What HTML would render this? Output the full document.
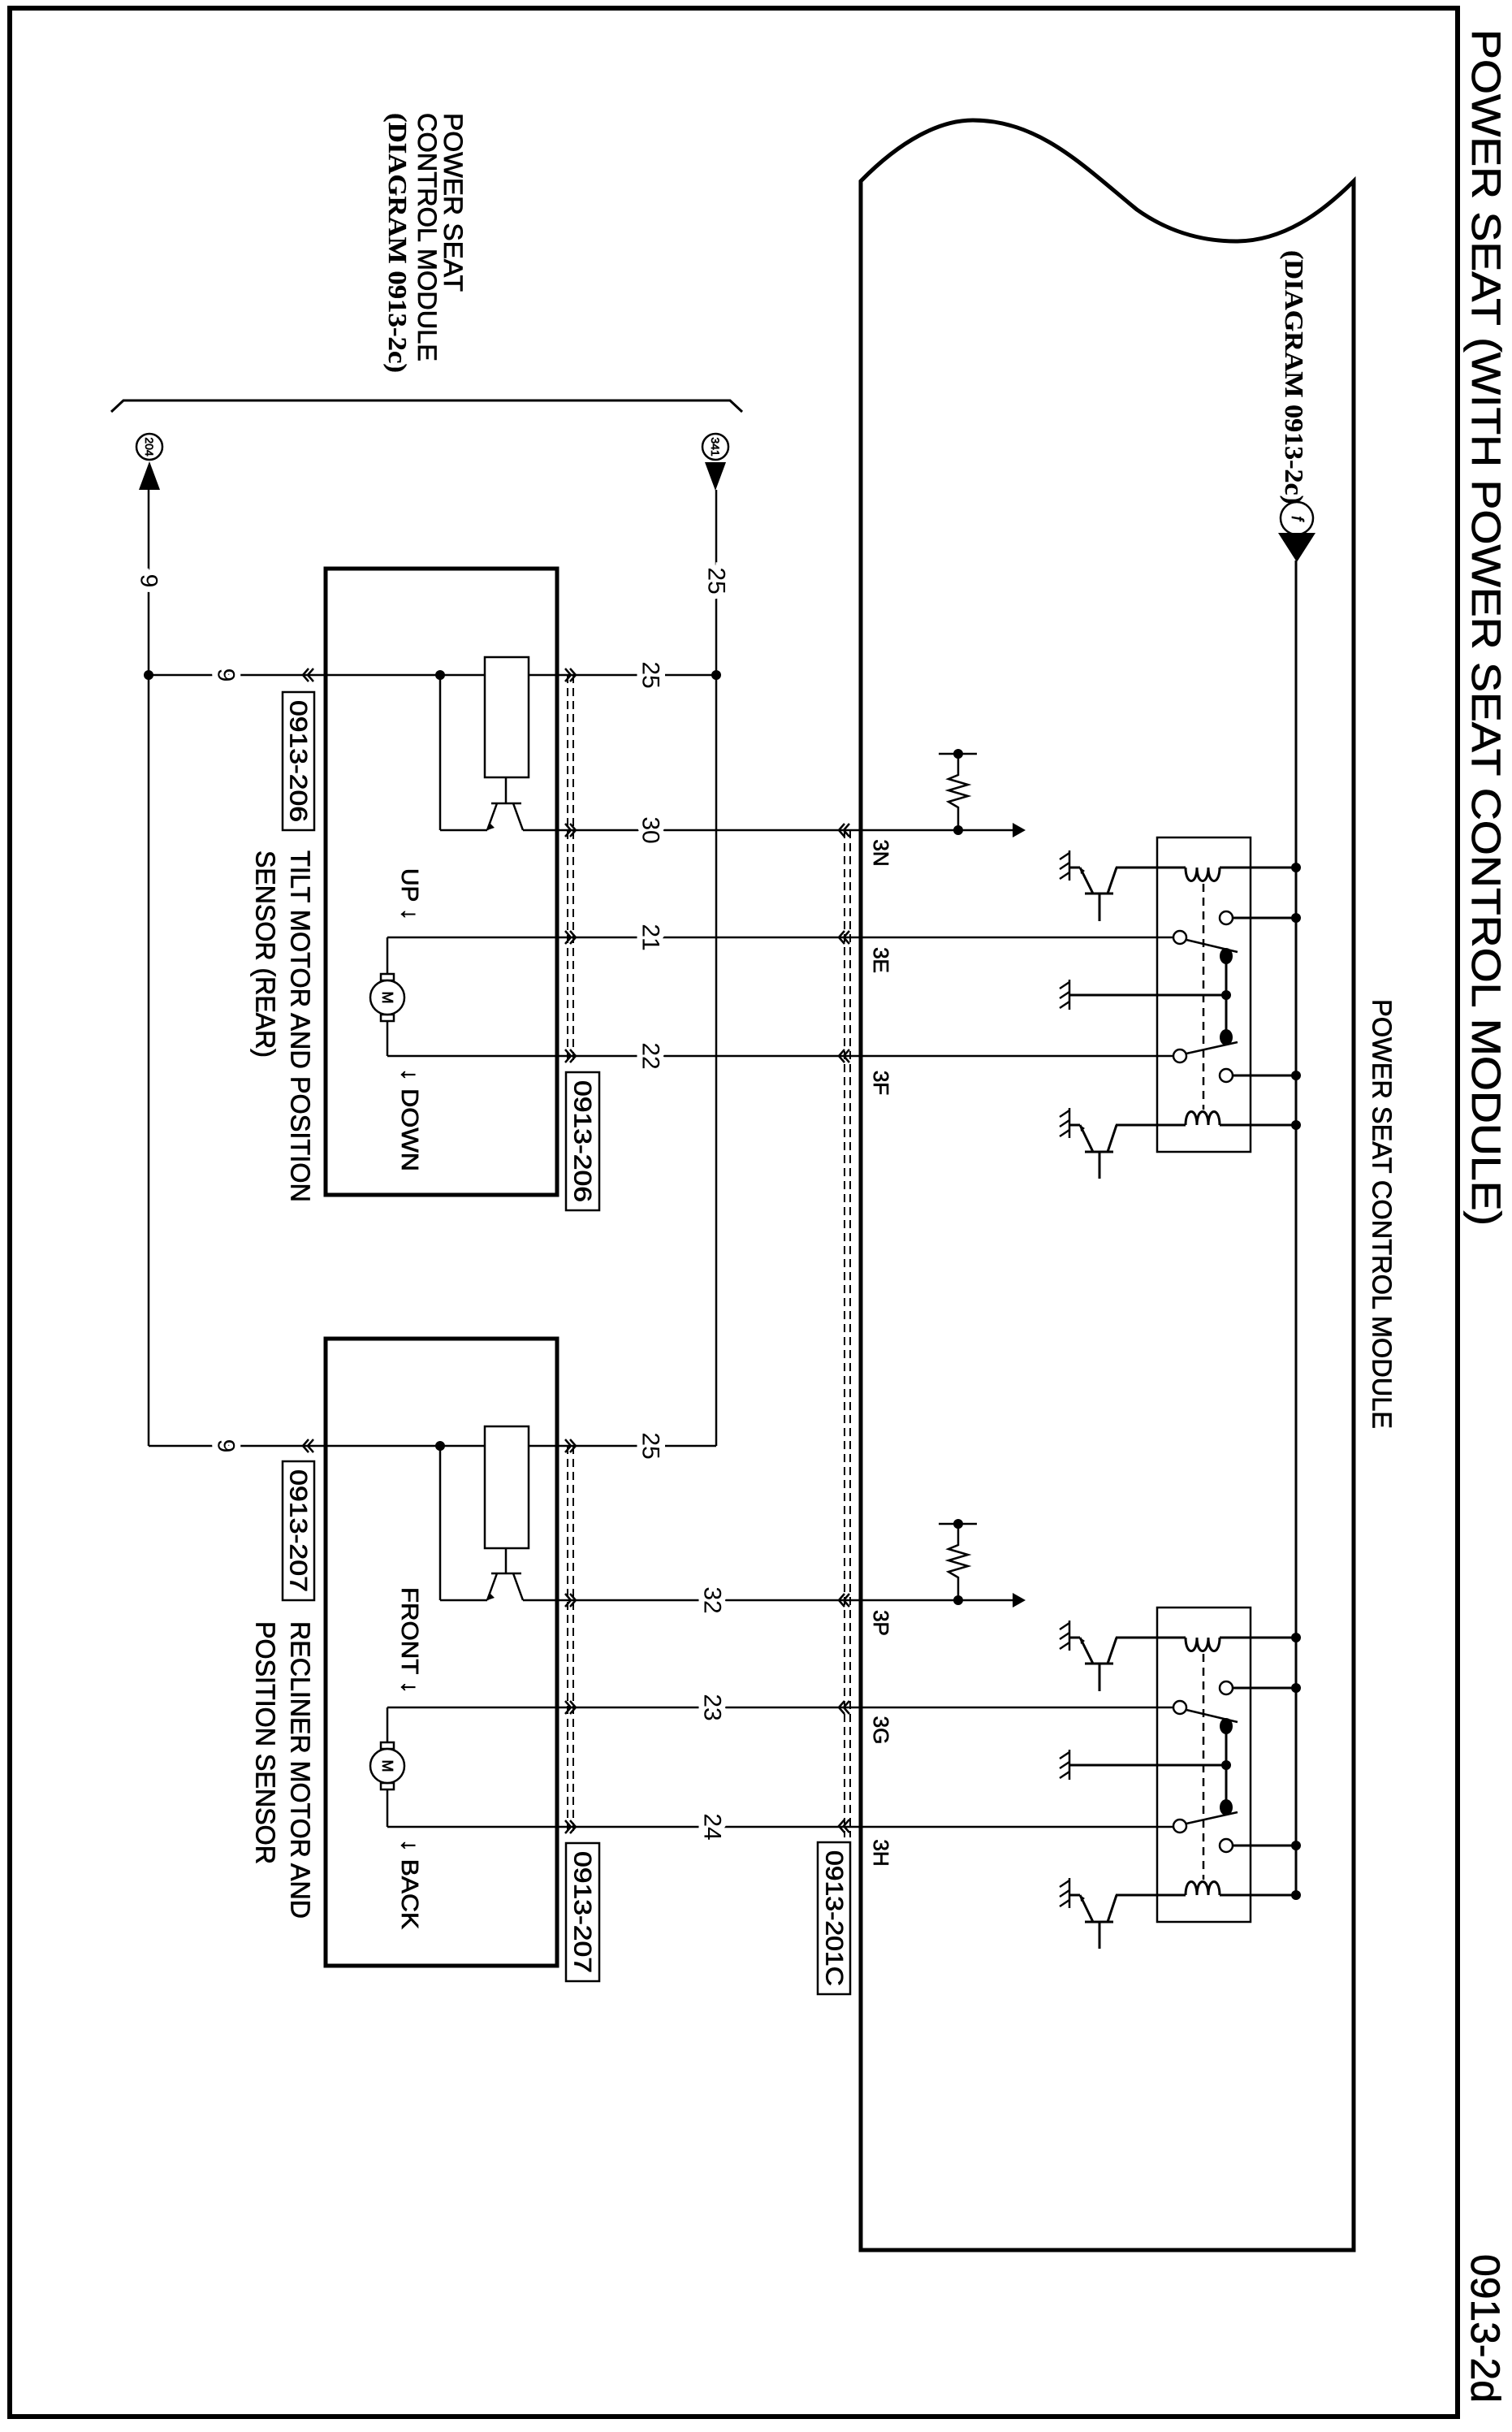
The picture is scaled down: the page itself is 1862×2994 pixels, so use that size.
<!DOCTYPE html>
<html><head><meta charset="utf-8"><style>
html,body{margin:0;padding:0;background:#fff}
svg{display:block}
text{font-family:"Liberation Sans",sans-serif;fill:#000;stroke:#000;stroke-width:0.7px}
.s{font-family:"Liberation Serif",serif;font-weight:bold;stroke-width:0.3px}
.lb{paint-order:stroke;stroke:#fff;stroke-width:14px}
</style></head><body>
<svg width="1862" height="2994" viewBox="0 0 1862 2994" xmlns="http://www.w3.org/2000/svg">
<defs>
<g id="relay" fill="none" stroke="#000" stroke-width="2.5">
  <line x1="1156" y1="928" x2="1203" y2="928"/>
  <polyline points="1180,928 1180,954 1168,959 1192,966 1168,973 1192,980 1168,987 1180,994 1180,1022"/>
  <circle cx="1180" cy="928" r="6" fill="#000" stroke="none"/>
  <circle cx="1180" cy="1022" r="6" fill="#000" stroke="none"/>
  <polygon points="1247,1013 1263,1022 1247,1031" fill="#000" stroke="none"/>
  <rect x="1425" y="1031" width="115" height="387" stroke-width="2.5"/>
  <line x1="1374" y1="1068" x2="1460" y2="1068" stroke-width="3"/>
  <path d="M1460,1068 C1460,1090 1474,1090 1474,1068 C1474,1090 1488,1090 1488,1068 C1488,1090 1502,1090 1502,1068" stroke-width="3"/>
  <line x1="1502" y1="1068" x2="1596" y2="1068" stroke-width="3"/>
  <circle cx="1596" cy="1068" r="6" fill="#000" stroke="none"/>
  <line x1="1482" y1="1088" x2="1482" y2="1366" stroke-dasharray="10,7"/>
  <circle cx="1510" cy="1130" r="8" fill="#fff"/>
  <line x1="1518" y1="1130" x2="1596" y2="1130" stroke-width="3"/>
  <circle cx="1596" cy="1130" r="6" fill="#000" stroke="none"/>
  <circle cx="1453" cy="1154" r="8" fill="#fff"/>
  <line x1="1461" y1="1157" x2="1524" y2="1172"/>
  <ellipse cx="1510" cy="1177" rx="8" ry="10" fill="#000" stroke="none"/>
  <line x1="1510" y1="1177" x2="1510" y2="1277" stroke-width="3"/>
  <circle cx="1510" cy="1225" r="6" fill="#000" stroke="none"/>
  <line x1="1317" y1="1225" x2="1510" y2="1225" stroke-width="3"/>
  <ellipse cx="1510" cy="1277" rx="8" ry="10" fill="#000" stroke="none"/>
  <circle cx="1453" cy="1300" r="8" fill="#fff"/>
  <line x1="1461" y1="1297" x2="1524" y2="1283"/>
  <circle cx="1510" cy="1324" r="8" fill="#fff"/>
  <line x1="1518" y1="1324" x2="1596" y2="1324" stroke-width="3"/>
  <circle cx="1596" cy="1324" r="6" fill="#000" stroke="none"/>
  <line x1="1374" y1="1385" x2="1460" y2="1385" stroke-width="3"/>
  <path d="M1460,1385 C1460,1363 1474,1363 1474,1385 C1474,1363 1488,1363 1488,1385 C1488,1363 1502,1363 1502,1385" stroke-width="3"/>
  <line x1="1502" y1="1385" x2="1596" y2="1385" stroke-width="3"/>
  <circle cx="1596" cy="1385" r="6" fill="#000" stroke="none"/>
  <line x1="1336" y1="1100" x2="1371" y2="1100" stroke-width="3"/>
  <line x1="1354" y1="1100" x2="1354" y2="1134" stroke-width="3"/>
  <line x1="1364" y1="1100" x2="1375" y2="1068" stroke-width="3"/>
  <line x1="1346" y1="1100" x2="1330" y2="1068" stroke-width="3"/>
  <line x1="1330" y1="1068" x2="1317" y2="1068" stroke-width="3"/>
  <polygon points="1330,1068 1336,1072 1331,1076" fill="#000" stroke="none"/>
  <line x1="1317" y1="1047" x2="1317" y2="1084"/>
  <line x1="1317" y1="1050" x2="1305" y2="1058"/>
  <line x1="1317" y1="1062" x2="1305" y2="1070"/>
  <line x1="1317" y1="1074" x2="1305" y2="1082"/>
  <line x1="1317" y1="1206" x2="1317" y2="1243"/>
  <line x1="1317" y1="1209" x2="1305" y2="1217"/>
  <line x1="1317" y1="1221" x2="1305" y2="1229"/>
  <line x1="1317" y1="1233" x2="1305" y2="1241"/>
  <line x1="1317" y1="1364" x2="1317" y2="1401"/>
  <line x1="1317" y1="1367" x2="1305" y2="1375"/>
  <line x1="1317" y1="1379" x2="1305" y2="1387"/>
  <line x1="1317" y1="1391" x2="1305" y2="1399"/>
  <line x1="1336" y1="1418" x2="1371" y2="1418" stroke-width="3"/>
  <line x1="1354" y1="1418" x2="1354" y2="1451" stroke-width="3"/>
  <line x1="1364" y1="1418" x2="1375" y2="1385" stroke-width="3"/>
  <line x1="1346" y1="1418" x2="1330" y2="1385" stroke-width="3"/>
  <line x1="1330" y1="1385" x2="1317" y2="1385" stroke-width="3"/>
  <polygon points="1330,1385 1336,1389 1331,1393" fill="#000" stroke="none"/>
  <path d="M1040,1014 L1033,1022 L1040,1030 M1046,1014 L1039,1022 L1046,1030"/>
  <path d="M1040,1146 L1033,1154 L1040,1162 M1046,1146 L1039,1154 L1046,1162"/>
  <path d="M1040,1292 L1033,1300 L1040,1308 M1046,1292 L1039,1300 L1046,1308"/>
</g>
<g id="chevR" fill="none" stroke="#000" stroke-width="2.5">
  <path d="M696,-8 L703,0 L696,8 M702,-8 L709,0 L702,8"/>
</g>
</defs>

<rect x="12" y="10" width="1783" height="2965" fill="none" stroke="#000" stroke-width="6"/>
<path d="M1060,2770 L1060,223 C1110,172 1158,148 1198,148 C1280,148 1335,205 1400,258 C1445,290 1490,297 1522,297 C1580,297 1628,262 1667,223 L1667,2770 Z" fill="none" stroke="#000" stroke-width="5"/>

<g fill="none" stroke="#000" stroke-width="2.5">
  <path d="M137,507 L152,493 L899,493 L914,507" stroke-width="3"/>
  <circle cx="184" cy="550" r="16" stroke-width="2.5"/>
  <circle cx="881" cy="550" r="16" stroke-width="2.5"/>
  <circle cx="1597" cy="638" r="20" stroke-width="2.5"/>
  <line x1="183" y1="603" x2="183" y2="1780"/>
  <line x1="882" y1="603" x2="882" y2="1780"/>
  <line x1="183" y1="831" x2="882" y2="831"/>
  <line x1="542" y1="831" x2="542" y2="1022"/>
  <line x1="542" y1="1022" x2="600" y2="1022"/>
  <line x1="644" y1="1022" x2="1250" y2="1022"/>
  <line x1="477" y1="1154" x2="1445" y2="1154"/>
  <line x1="477" y1="1300" x2="1445" y2="1300"/>
  <line x1="477" y1="1154" x2="477" y2="1300"/>
  <line x1="183" y1="1780" x2="882" y2="1780"/>
  <line x1="542" y1="1780" x2="542" y2="1970"/>
  <line x1="542" y1="1970" x2="600" y2="1970"/>
  <line x1="644" y1="1970" x2="1250" y2="1970"/>
  <line x1="477" y1="2102" x2="1445" y2="2102"/>
  <line x1="477" y1="2249" x2="1445" y2="2249"/>
  <line x1="477" y1="2102" x2="477" y2="2249"/>
  <line x1="1596" y1="690" x2="1596" y2="2333" stroke-width="3"/>
  <rect x="401" y="700" width="285" height="771" stroke-width="5"/>
  <rect x="401" y="1648" width="285" height="772" stroke-width="5"/>
  <rect x="597" y="809" width="54" height="148" fill="#fff"/>
  <rect x="597" y="1756" width="54" height="150" fill="#fff"/>
  <line x1="623" y1="957" x2="623" y2="989"/>
  <line x1="605" y1="989" x2="642" y2="989"/>
  <line x1="612" y1="989" x2="600" y2="1022"/>
  <line x1="632" y1="989" x2="644" y2="1022"/>
  <line x1="623" y1="1906" x2="623" y2="1937"/>
  <line x1="605" y1="1937" x2="642" y2="1937"/>
  <line x1="612" y1="1937" x2="600" y2="1970"/>
  <line x1="632" y1="1937" x2="644" y2="1970"/>
  <rect x="469" y="1199" width="16" height="8" fill="#fff"/>
  <rect x="469" y="1249" width="16" height="8" fill="#fff"/>
  <circle cx="477" cy="1228" r="21" fill="#fff"/>
  <rect x="469" y="2145" width="16" height="8" fill="#fff"/>
  <rect x="469" y="2195" width="16" height="8" fill="#fff"/>
  <circle cx="477" cy="2174" r="21" fill="#fff"/>
  <line x1="699" y1="831" x2="699" y2="1306" stroke-width="2" stroke-dasharray="10,6"/>
  <line x1="706" y1="831" x2="706" y2="1306" stroke-width="2" stroke-dasharray="10,6"/>
  <line x1="699" y1="1780" x2="699" y2="2255" stroke-width="2" stroke-dasharray="10,6"/>
  <line x1="706" y1="1780" x2="706" y2="2255" stroke-width="2" stroke-dasharray="10,6"/>
  <line x1="1040" y1="1022" x2="1040" y2="2262" stroke-width="2" stroke-dasharray="10,6"/>
  <line x1="1047" y1="1022" x2="1047" y2="2262" stroke-width="2" stroke-dasharray="10,6"/>
  <path d="M380,823 L373,831 L380,839 M386,823 L379,831 L386,839"/>
  <path d="M380,1772 L373,1780 L380,1788 M386,1772 L379,1780 L386,1788"/>
  <rect x="348" y="852" width="39" height="170" fill="#fff"/>
  <rect x="697" y="1320" width="41" height="170" fill="#fff"/>
  <rect x="348" y="1799" width="39" height="171" fill="#fff"/>
  <rect x="697" y="2269" width="41" height="170" fill="#fff"/>
  <rect x="1007" y="2268" width="40" height="187" fill="#fff"/>
</g>
<use href="#chevR" transform="translate(0,831)"/>
<use href="#chevR" transform="translate(0,1022)"/>
<use href="#chevR" transform="translate(0,1154)"/>
<use href="#chevR" transform="translate(0,1300)"/>
<use href="#chevR" transform="translate(0,1780)"/>
<use href="#chevR" transform="translate(0,1970)"/>
<use href="#chevR" transform="translate(0,2102)"/>
<use href="#chevR" transform="translate(0,2249)"/>
<use href="#relay"/>
<use href="#relay" transform="translate(0,948)"/>

<g fill="#000">
  <polygon points="171,603 197,603 184,568"/>
  <polygon points="868,569 894,569 881,604"/>
  <polygon points="1574,656 1620,656 1597,692"/>
  <circle cx="183" cy="831" r="6"/>
  <circle cx="882" cy="831" r="6"/>
  <circle cx="542" cy="831" r="6"/>
  <circle cx="542" cy="1780" r="6"/>
  <polygon points="600,1022 604,1014 609,1019"/>
  <polygon points="600,1970 604,1962 609,1967"/>
</g>

<g dominant-baseline="central">
<text transform="translate(1830,36) rotate(90)" font-size="50" textLength="1473" lengthAdjust="spacingAndGlyphs">POWER SEAT (WITH POWER SEAT CONTROL MODULE)</text>
<text transform="translate(1829,2775) rotate(90)" font-size="50" textLength="183" lengthAdjust="spacingAndGlyphs">0913-2d</text>
<text transform="translate(1702,1230) rotate(90)" font-size="33" textLength="529" lengthAdjust="spacingAndGlyphs">POWER SEAT CONTROL MODULE</text>
<text transform="translate(558,139) rotate(90)" font-size="32" textLength="220" lengthAdjust="spacingAndGlyphs">POWER SEAT</text>
<text transform="translate(526,139) rotate(90)" font-size="32" textLength="306" lengthAdjust="spacingAndGlyphs">CONTROL MODULE</text>
<text class="s" transform="translate(490,139) rotate(90)" font-size="32" textLength="320" lengthAdjust="spacingAndGlyphs">(DIAGRAM 0913-2c)</text>
<text class="s" transform="translate(1594,308) rotate(90)" font-size="32" textLength="313" lengthAdjust="spacingAndGlyphs">(DIAGRAM 0913-2c)</text>
<text transform="translate(184,550) rotate(90)" font-size="14" text-anchor="middle">204</text>
<text transform="translate(881,550) rotate(90)" font-size="14" text-anchor="middle">341</text>
<text transform="translate(1597,638) rotate(90)" font-size="20" text-anchor="middle" font-style="italic">f</text>

<g font-size="30" text-anchor="middle">
<text class="lb" transform="translate(183,715) rotate(90)">9</text>
<text class="lb" transform="translate(882,715) rotate(90)">25</text>
<text class="lb" transform="translate(278,831) rotate(90)">9</text>
<text class="lb" transform="translate(801,831) rotate(90)">25</text>
<text class="lb" transform="translate(801,1022) rotate(90)">30</text>
<text class="lb" transform="translate(801,1154) rotate(90)">21</text>
<text class="lb" transform="translate(801,1300) rotate(90)">22</text>
<text class="lb" transform="translate(278,1780) rotate(90)">9</text>
<text class="lb" transform="translate(801,1780) rotate(90)">25</text>
<text class="lb" transform="translate(877,1970) rotate(90)">32</text>
<text class="lb" transform="translate(877,2102) rotate(90)">23</text>
<text class="lb" transform="translate(877,2249) rotate(90)">24</text>
</g>

<g font-size="26" text-anchor="middle">
<text transform="translate(1085,1050) rotate(90)">3N</text>
<text transform="translate(1085,1182) rotate(90)">3E</text>
<text transform="translate(1085,1333) rotate(90)">3F</text>
<text transform="translate(1085,1998) rotate(90)">3P</text>
<text transform="translate(1085,2130) rotate(90)">3G</text>
<text transform="translate(1085,2281) rotate(90)">3H</text>
</g>
<text transform="translate(477,1228) rotate(90)" font-size="18" text-anchor="middle">M</text>
<text transform="translate(477,2174) rotate(90)" font-size="18" text-anchor="middle">M</text>

<g font-size="29">
<text transform="translate(504,1069) rotate(90)" textLength="64" lengthAdjust="spacingAndGlyphs">UP ↓</text>
<text transform="translate(504,1315) rotate(90)" textLength="127" lengthAdjust="spacingAndGlyphs">↓ DOWN</text>
<text transform="translate(504,1954) rotate(90)" textLength="131" lengthAdjust="spacingAndGlyphs">FRONT ↓</text>
<text transform="translate(504,2264) rotate(90)" textLength="111" lengthAdjust="spacingAndGlyphs">↓ BACK</text>
</g>
<g font-size="33">
<text transform="translate(370,1047) rotate(90)" textLength="433" lengthAdjust="spacingAndGlyphs">TILT MOTOR AND POSITION</text>
<text transform="translate(327,1047) rotate(90)" textLength="255" lengthAdjust="spacingAndGlyphs">SENSOR (REAR)</text>
<text transform="translate(370,1996) rotate(90)" textLength="366" lengthAdjust="spacingAndGlyphs">RECLINER MOTOR AND</text>
<text transform="translate(327,1996) rotate(90)" textLength="299" lengthAdjust="spacingAndGlyphs">POSITION SENSOR</text>
</g>
<g font-size="30">
<text transform="translate(367,862) rotate(90)" textLength="150" lengthAdjust="spacingAndGlyphs">0913-206</text>
<text transform="translate(717,1330) rotate(90)" textLength="150" lengthAdjust="spacingAndGlyphs">0913-206</text>
<text transform="translate(367,1809) rotate(90)" textLength="151" lengthAdjust="spacingAndGlyphs">0913-207</text>
<text transform="translate(717,2279) rotate(90)" textLength="150" lengthAdjust="spacingAndGlyphs">0913-207</text>
<text transform="translate(1027,2278) rotate(90)" textLength="167" lengthAdjust="spacingAndGlyphs">0913-201C</text>
</g>
</g>
</svg>
</body></html>
